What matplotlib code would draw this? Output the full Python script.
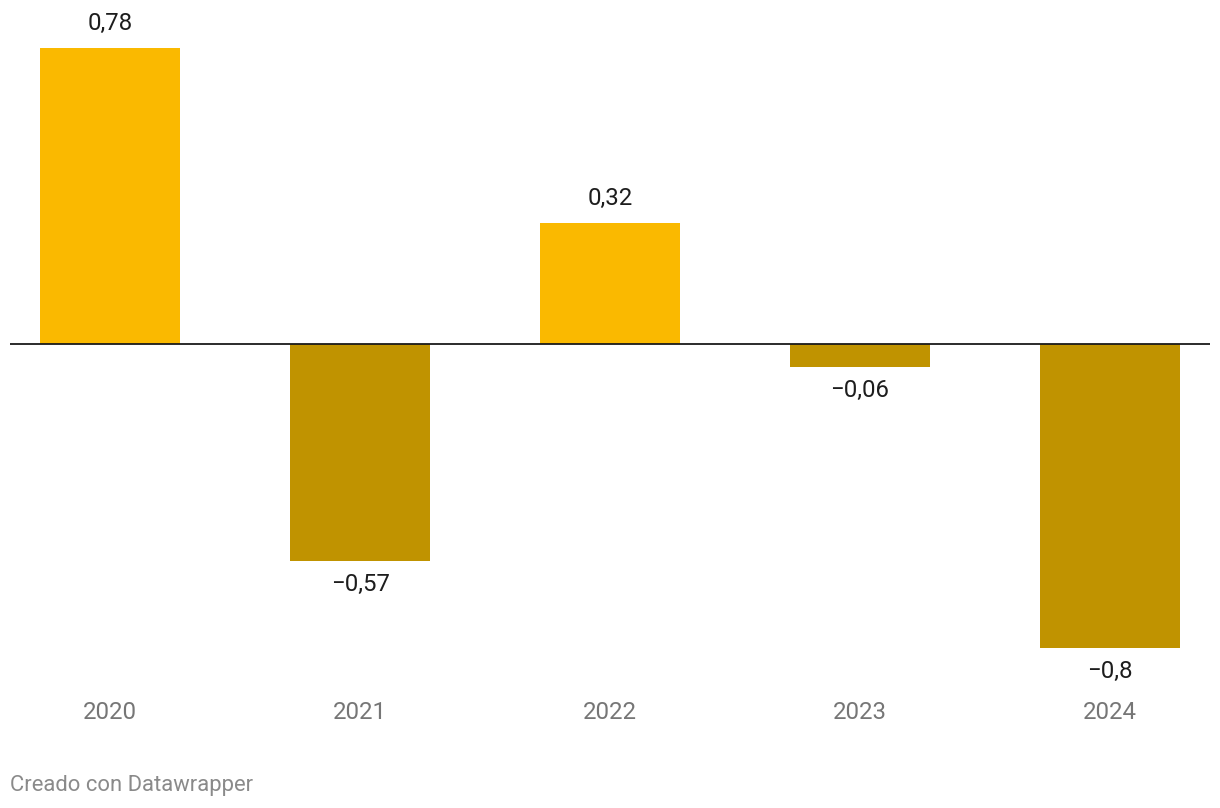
import matplotlib
matplotlib.use("Agg")
import matplotlib.pyplot as plt

plt.rcParams['font.family'] = ['Roboto', 'DejaVu Sans']

years = ['2020', '2021', '2022', '2023', '2024']
values = [0.78, -0.57, 0.32, -0.06, -0.8]
labels = ['0,78', '\u22120,57', '0,32', '\u22120,06', '\u22120,8']

fig = plt.figure(figsize=(12.2, 8.08), dpi=100)
ax = fig.add_axes([10/1220, 160/808, 1200/1220, 600/808])

x = range(len(years))
colors = ['#fab900' if v >= 0 else '#c09300' for v in values]
ax.bar(x, values, width=0.56, color=colors, zorder=2)
ax.axhline(0, color='#1a1a1a', lw=1.3, zorder=3)

for i, v in enumerate(values):
    if v >= 0:
        ax.annotate(labels[i], (i, v), xytext=(0, 17.5), textcoords='offset points',
                    ha='center', va='center', fontsize=17.3, color='#1d1d1d')
    else:
        ax.annotate(labels[i], (i, v), xytext=(0, -17), textcoords='offset points',
                    ha='center', va='center', fontsize=17.3, color='#1d1d1d')
    # year labels below the plot
    ax.annotate(years[i], (i, -0.8), xytext=(0, -46.5), textcoords='offset points',
                ha='center', va='center', fontsize=17.3, color='#767676')

ax.set_xlim(-0.4, 4.4)
ax.set_ylim(-0.8, 0.78)
ax.axis('off')

fig.text(10/1220, 1 - 785/808, 'Creado con Datawrapper', ha='left', va='center',
         fontsize=15.8, color='#8a8a8a')

fig.savefig('out.png', dpi=100)
